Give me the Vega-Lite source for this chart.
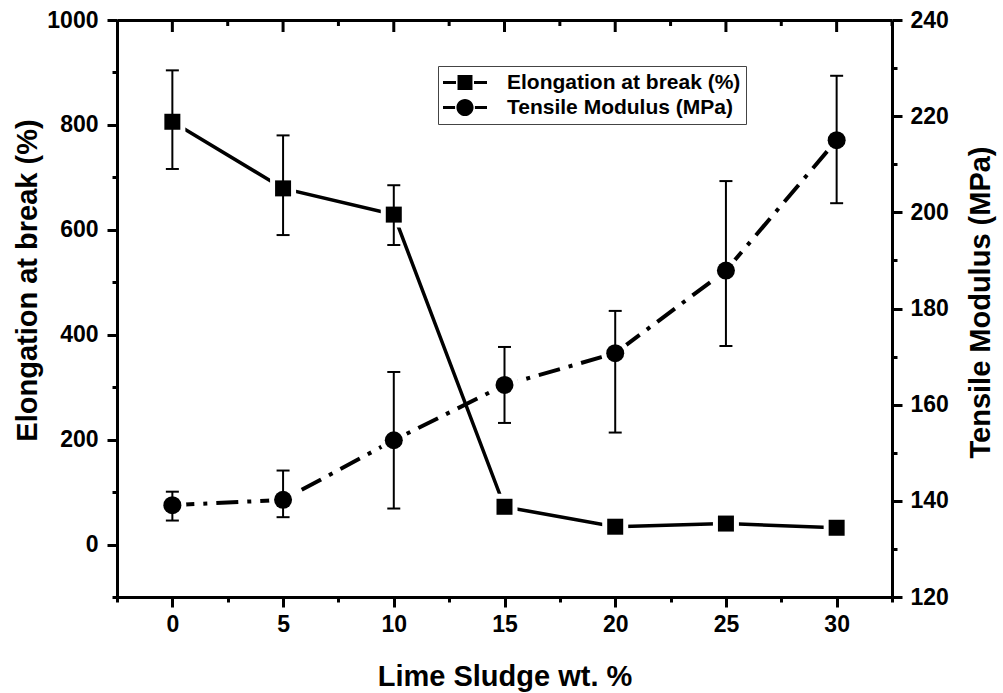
{
  "$schema": "https://vega.github.io/schema/vega-lite/v6.json",
  "width": 775,
  "height": 577,
  "autosize": "none",
  "padding": {"left": 117, "top": 20, "right": 111, "bottom": 96},
  "background": "white",
  "config": {
    "view": {"stroke": null},
    "font": "Liberation Sans",
    "axis": {
      "grid": false,
      "domainColor": "black",
      "domainWidth": 3,
      "tickColor": "black",
      "tickWidth": 3,
      "labelColor": "black",
      "labelFont": "Liberation Sans",
      "labelFontSize": 23,
      "labelFontWeight": "bold",
      "titleColor": "black",
      "titleFont": "Liberation Sans",
      "titleFontSize": 29,
      "titleFontWeight": "bold"
    }
  },
  "datasets": {
    "props": [
      {"wt": 0, "series": "Elongation at break (%)", "value": 806, "lo": 716, "hi": 904},
      {"wt": 5, "series": "Elongation at break (%)", "value": 679, "lo": 590, "hi": 780},
      {"wt": 10, "series": "Elongation at break (%)", "value": 629, "lo": 571, "hi": 685},
      {"wt": 15, "series": "Elongation at break (%)", "value": 72, "lo": 65, "hi": 79},
      {"wt": 20, "series": "Elongation at break (%)", "value": 34, "lo": 29, "hi": 39},
      {"wt": 25, "series": "Elongation at break (%)", "value": 40, "lo": 34, "hi": 46},
      {"wt": 30, "series": "Elongation at break (%)", "value": 32, "lo": 28, "hi": 36},
      {"wt": 0, "series": "Tensile Modulus (MPa)", "value": 139.1, "lo": 135.9, "hi": 141.9},
      {"wt": 5, "series": "Tensile Modulus (MPa)", "value": 140.2, "lo": 136.6, "hi": 146.3},
      {"wt": 10, "series": "Tensile Modulus (MPa)", "value": 152.6, "lo": 138.4, "hi": 166.8},
      {"wt": 15, "series": "Tensile Modulus (MPa)", "value": 164.1, "lo": 156.2, "hi": 172.0},
      {"wt": 20, "series": "Tensile Modulus (MPa)", "value": 170.7, "lo": 154.2, "hi": 179.5},
      {"wt": 25, "series": "Tensile Modulus (MPa)", "value": 187.9, "lo": 172.2, "hi": 206.5},
      {"wt": 30, "series": "Tensile Modulus (MPa)", "value": 215.0, "lo": 201.9, "hi": 228.4}
    ],
    "topMajor": [{"wt": 0}, {"wt": 5}, {"wt": 10}, {"wt": 15}, {"wt": 20}, {"wt": 25}, {"wt": 30}],
    "topMinor": [{"wt": -2.5}, {"wt": 2.5}, {"wt": 7.5}, {"wt": 12.5}, {"wt": 17.5}, {"wt": 22.5}, {"wt": 27.5}, {"wt": 32.5}]
  },
  "data": {"name": "props"},
  "layer": [
    {
      "transform": [{"filter": "datum.series === 'Elongation at break (%)'"}],
      "resolve": {"axis": {"x": "independent", "y": "independent"}},
      "layer": [
        {
          "mark": {"type": "line", "color": "black", "strokeWidth": 3.5},
          "encoding": {
            "x": {
              "field": "wt", "type": "quantitative",
              "scale": {"domain": [-2.5, 32.5], "nice": false, "zero": false},
              "axis": {
                "orient": "bottom",
                "title": "Lime Sludge wt. %",
                "values": [0, 5, 10, 15, 20, 25, 30],
                "tickSize": 10,
                "labelPadding": 6,
                "titlePadding": 26
              }
            },
            "y": {
              "field": "value", "type": "quantitative",
              "scale": {"domain": [-100, 1000], "nice": false, "zero": false},
              "axis": {
                "orient": "left",
                "title": "Elongation at break (%)",
                "titleY": 260,
                "values": [0, 200, 400, 600, 800, 1000],
                "format": "d",
                "tickSize": 10,
                "labelPadding": 9,
                "titlePadding": 4
              }
            }
          }
        },
        {
          "mark": {"type": "point", "shape": "square", "filled": true, "color": "white", "stroke": "white", "strokeWidth": 10, "size": 256, "opacity": 1},
          "encoding": {
            "x": {
              "field": "wt", "type": "quantitative",
              "axis": {"orient": "bottom", "title": null, "labels": false, "domain": false, "tickSize": 5, "values": [-2.5, 2.5, 7.5, 12.5, 17.5, 22.5, 27.5, 32.5]}
            },
            "y": {
              "field": "value", "type": "quantitative",
              "axis": {"orient": "left", "title": null, "labels": false, "domain": false, "tickSize": 5, "values": [-100, 100, 300, 500, 700, 900]}
            }
          }
        },
        {
          "mark": {"type": "rule", "color": "black", "strokeWidth": 2},
          "encoding": {
            "x": {"field": "wt", "type": "quantitative", "axis": null},
            "y": {"field": "lo", "type": "quantitative", "axis": null},
            "y2": {"field": "hi"}
          }
        },
        {
          "mark": {"type": "tick", "orient": "horizontal", "color": "black", "thickness": 2, "size": 13, "opacity": 1},
          "encoding": {
            "x": {"field": "wt", "type": "quantitative", "axis": null},
            "y": {"field": "lo", "type": "quantitative", "axis": null}
          }
        },
        {
          "mark": {"type": "tick", "orient": "horizontal", "color": "black", "thickness": 2, "size": 13, "opacity": 1},
          "encoding": {
            "x": {"field": "wt", "type": "quantitative", "axis": null},
            "y": {"field": "hi", "type": "quantitative", "axis": null}
          }
        },
        {
          "mark": {"type": "point", "shape": "square", "filled": true, "color": "black", "size": 256, "opacity": 1},
          "encoding": {
            "x": {"field": "wt", "type": "quantitative", "axis": null},
            "y": {"field": "value", "type": "quantitative", "axis": null}
          }
        }
      ]
    },
    {
      "transform": [{"filter": "datum.series === 'Tensile Modulus (MPa)'"}],
      "resolve": {"axis": {"x": "independent", "y": "independent"}},
      "layer": [
        {
          "mark": {"type": "line", "color": "black", "strokeWidth": 4, "strokeDash": [22, 9, 4, 9]},
          "encoding": {
            "x": {
              "field": "wt", "type": "quantitative",
              "scale": {"domain": [-2.5, 32.5], "nice": false, "zero": false},
              "axis": {
                "orient": "top",
                "title": null,
                "labels": false,
                "ticks": false,
                "domain": true,
                "values": [0, 5, 10, 15, 20, 25, 30]
              }
            },
            "y": {
              "field": "value", "type": "quantitative",
              "scale": {"domain": [120, 240], "nice": false, "zero": false},
              "axis": {
                "orient": "right",
                "title": "Tensile Modulus (MPa)",
                "titleAngle": 270,
                "titleBaseline": "top",
                "titleY": 282,
                "values": [120, 140, 160, 180, 200, 220, 240],
                "tickSize": 10,
                "labelPadding": 8,
                "titlePadding": 18
              }
            }
          }
        },
        {
          "mark": {"type": "point", "shape": "circle", "filled": true, "color": "white", "stroke": "white", "strokeWidth": 10, "size": 324, "opacity": 1},
          "encoding": {
            "x": {"field": "wt", "type": "quantitative", "axis": null},
            "y": {
              "field": "value", "type": "quantitative",
              "axis": {"orient": "right", "title": null, "labels": false, "domain": false, "tickSize": 5, "values": [130, 150, 170, 190, 210, 230]}
            }
          }
        },
        {
          "mark": {"type": "rule", "color": "black", "strokeWidth": 2},
          "encoding": {
            "x": {"field": "wt", "type": "quantitative", "axis": null},
            "y": {"field": "lo", "type": "quantitative", "axis": null},
            "y2": {"field": "hi"}
          }
        },
        {
          "mark": {"type": "tick", "orient": "horizontal", "color": "black", "thickness": 2, "size": 13, "opacity": 1},
          "encoding": {
            "x": {"field": "wt", "type": "quantitative", "axis": null},
            "y": {"field": "lo", "type": "quantitative", "axis": null}
          }
        },
        {
          "mark": {"type": "tick", "orient": "horizontal", "color": "black", "thickness": 2, "size": 13, "opacity": 1},
          "encoding": {
            "x": {"field": "wt", "type": "quantitative", "axis": null},
            "y": {"field": "hi", "type": "quantitative", "axis": null}
          }
        },
        {
          "mark": {"type": "point", "shape": "circle", "filled": true, "color": "black", "size": 324, "opacity": 1},
          "encoding": {
            "x": {"field": "wt", "type": "quantitative", "axis": null},
            "y": {"field": "value", "type": "quantitative", "axis": null}
          }
        }
      ]
    },
    {
      "data": {"name": "topMajor"},
      "mark": {"type": "tick", "orient": "vertical", "color": "black", "thickness": 3, "size": 24, "opacity": 1, "clip": true},
      "encoding": {
        "x": {"field": "wt", "type": "quantitative", "axis": null},
        "y": {"datum": 240, "type": "quantitative", "scale": {"domain": [120, 240], "nice": false, "zero": false}, "axis": null}
      }
    },
    {
      "data": {"name": "topMinor"},
      "mark": {"type": "tick", "orient": "vertical", "color": "black", "thickness": 3, "size": 12, "opacity": 1, "clip": true},
      "encoding": {
        "x": {"field": "wt", "type": "quantitative", "axis": null},
        "y": {"datum": 240, "type": "quantitative", "scale": {"domain": [120, 240], "nice": false, "zero": false}, "axis": null}
      }
    },
    {
      "transform": [{"filter": "false"}],
      "mark": {"type": "point", "filled": true, "color": "black", "size": 1936, "opacity": 1, "strokeWidth": 0},
      "encoding": {
        "x": {"field": "wt", "type": "quantitative", "axis": null},
        "shape": {
          "field": "series", "type": "nominal",
          "scale": {
            "domain": ["Elongation at break (%)", "Tensile Modulus (MPa)"],
            "range": [
              "M-1,-0.07H-0.41V0.07H-1Z M-0.34,-0.34H0.34V0.34H-0.34Z M0.41,-0.07H1V0.07H0.41Z",
              "M-1,-0.07H-0.45V0.07H-1Z M-0.39,0A0.39,0.39,0,1,1,0.39,0A0.39,0.39,0,1,1,-0.39,0Z M0.45,-0.07H1V0.07H0.45Z"
            ]
          },
          "legend": {
            "orient": "none",
            "legendX": 321,
            "legendY": 46,
            "title": null,
            "padding": 5,
            "strokeColor": "#444444",
            "symbolSize": 1936,
            "symbolStrokeWidth": 0,
            "clipHeight": 23,
            "rowPadding": 2,
            "labelFont": "Liberation Sans",
            "labelFontSize": 21,
            "labelFontWeight": "bold",
            "labelColor": "black",
            "labelOffset": 20,
            "labelLimit": 400
          }
        }
      }
    }
  ],
  "resolve": {"scale": {"y": "independent"}, "axis": {"x": "independent"}}
}
